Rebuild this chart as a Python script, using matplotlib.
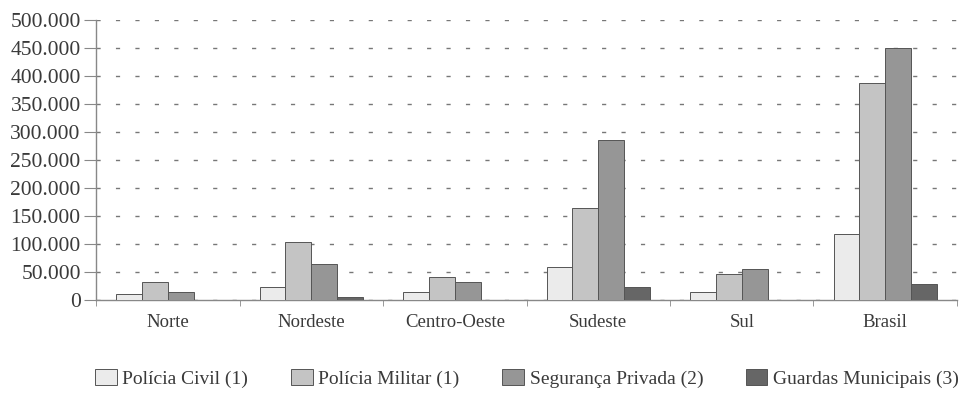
import numpy as np
import matplotlib.pyplot as plt
from matplotlib.ticker import FuncFormatter, FixedLocator

# efetivos por região (número de pessoas)
regioes = ["Norte", "Nordeste", "Centro-Oeste", "Sudeste", "Sul", "Brasil"]
policia_civil = [10000, 24000, 14000, 59000, 14000, 118000]
policia_militar = [32000, 103000, 42000, 165000, 46000, 388000]
seguranca_privada = [14000, 64000, 32000, 286000, 56000, 450000]
guardas_municipais = [1000, 5000, 1000, 24000, 1000, 29000]

series = [
    ("Polícia Civil (1)", policia_civil, "#ebebeb"),
    ("Polícia Militar (1)", policia_militar, "#c4c4c4"),
    ("Segurança Privada (2)", seguranca_privada, "#969696"),
    ("Guardas Municipais (3)", guardas_municipais, "#666666"),
]

plt.rcParams['font.family'] = ['Liberation Serif', 'DejaVu Serif']
texto = "#3a3a3a"

fig = plt.figure(figsize=(9.62, 3.98), dpi=100)
ax = fig.add_axes([0.0998, 0.246, 0.895, 0.704])

x = np.arange(len(regioes))
w = 0.18
for i, (nome, vals, cor) in enumerate(series):
    ax.bar(x + (i - 1.5) * w, vals, width=w, color=cor, edgecolor="#555555",
           linewidth=0.7, label=nome, zorder=3)

ax.set_xlim(-0.5, len(regioes) - 0.5)
ax.set_ylim(0, 500000)
ax.set_yticks(np.arange(0, 500001, 50000))
ax.yaxis.set_major_formatter(FuncFormatter(lambda v, p: f"{int(v):,}".replace(",", ".")))
ax.grid(axis="y", color="#777777", linestyle=(0, (3, 11)), linewidth=1.0, zorder=1)

ax.set_xticks(x)
ax.set_xticklabels(regioes)
ax.xaxis.set_minor_locator(FixedLocator(np.arange(-0.5, len(regioes), 1.0)))
ax.tick_params(axis="x", which="major", length=0, pad=10, labelsize=13.5, labelcolor=texto)
ax.tick_params(axis="x", which="minor", length=4, color="#888888")
ax.tick_params(axis="y", length=9, color="#888888", labelsize=15.5, labelcolor=texto, pad=2)

for s in ["top", "right"]:
    ax.spines[s].set_visible(False)
for s in ["left", "bottom"]:
    ax.spines[s].set_color("#888888")
    ax.spines[s].set_linewidth(1.0)

fig.legend(loc="lower right", bbox_to_anchor=(0.997, 0.025), borderaxespad=0,
           borderpad=0, ncol=4, frameon=False,
           fontsize=14, handlelength=1.1, handleheight=0.9, handletextpad=0.3,
           columnspacing=2.2, labelcolor=texto)

fig.savefig("out.png", dpi=100)
